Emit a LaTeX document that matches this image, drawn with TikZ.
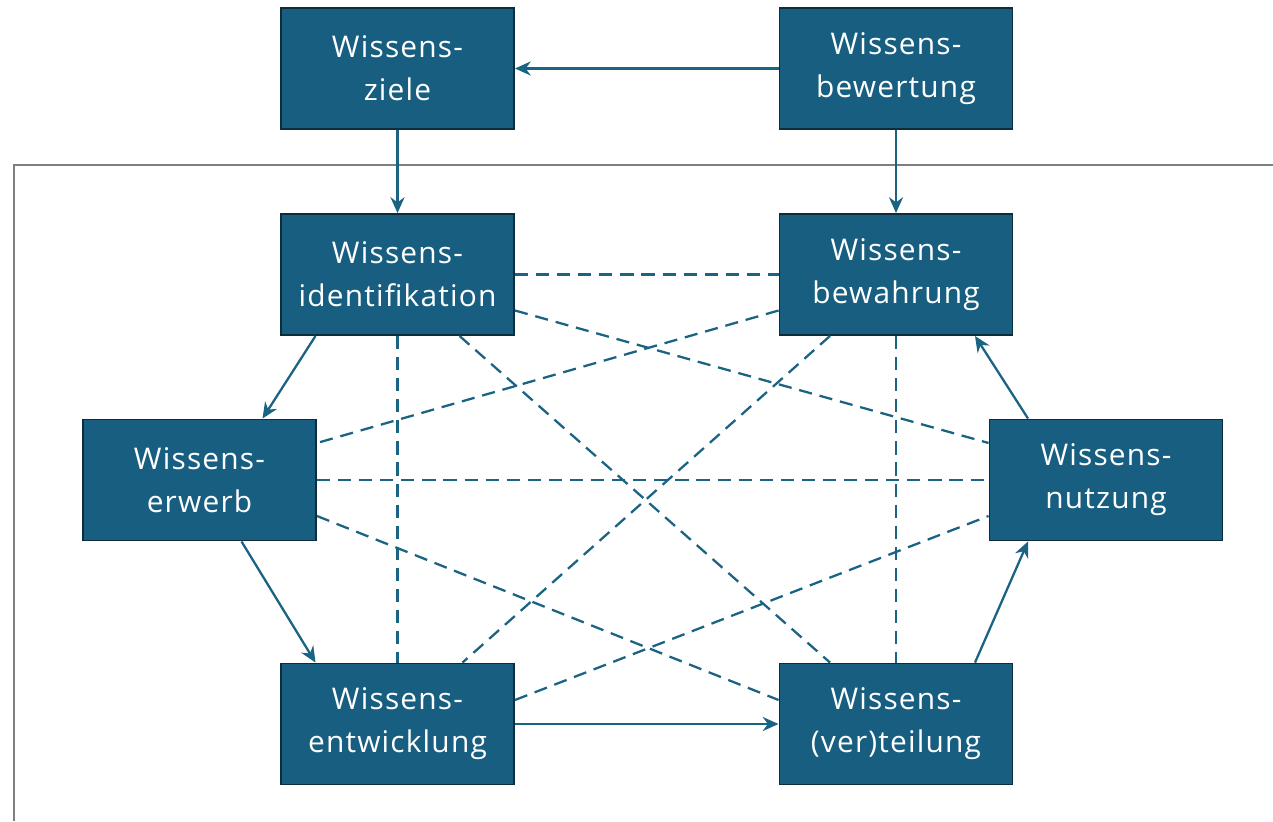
\documentclass[tikz,border=0pt]{standalone}
\usepackage{fontspec}
\setmainfont{Open Sans}[LetterSpace=4]
\usetikzlibrary{arrows.meta}
\definecolor{boxfill}{HTML}{175E80}
\definecolor{boxedge}{HTML}{0D2C3C}
\definecolor{link}{HTML}{1A6383}
\definecolor{frame}{HTML}{7F7F7F}
\begin{document}
\begin{tikzpicture}[x=0.02cm,y=-0.02cm,
  block/.style={draw=boxedge,line width=1.1pt,fill=boxfill,text=white,
    minimum width=233*0.02cm,minimum height=121*0.02cm,inner sep=0pt,
    align=center,font=\fontsize{17}{24.5}\selectfont},
  flow/.style={draw=link,line width=1.3pt,-{Stealth[length=9pt,width=8pt]}},
  cross/.style={draw=link,line width=1.3pt,dash pattern=on 7.5pt off 4.5pt}]
\useasboundingbox (0,0) rectangle (1273,821);
% outer frame
\draw[frame,line width=1.1pt] (14,821) -- (14,165) -- (1273,165);
% blocks
\node[block] (ziele) at (397.5,68.5) {Wissens-\\ziele};
\node[block] (bewert) at (896,68.5) {Wissens-\\bewertung};
\node[block] (ident) at (397.5,274.5) {Wissens-\\identifikation};
\node[block] (bewahr) at (896,274.5) {Wissens-\\bewahrung};
\node[block] (erwerb) at (199.5,480) {Wissens-\\erwerb};
\node[block] (nutz) at (1106,480) {Wissens-\\nutzung};
\node[block] (entw) at (397.5,724) {Wissens-\\entwicklung};
\node[block] (teil) at (896,724) {Wissens-\\(ver)teilung};
% dashed cross links
\draw[cross] (ident.east) -- (bewahr.west);
\draw[cross] (ident.south) -- (entw.north);
\draw[cross] (bewahr.south) -- (teil.north);
\draw[cross] (erwerb.east) -- (nutz.west);
\draw[cross] ([yshift=-36*0.02cm]ident.east) -- ([yshift=37*0.02cm]nutz.west);
\draw[cross] ([yshift=-36*0.02cm]bewahr.west) -- ([yshift=37*0.02cm]erwerb.east);
\draw[cross] ([xshift=62*0.02cm]ident.south) -- ([xshift=-66*0.02cm]teil.north);
\draw[cross] ([xshift=-66*0.02cm]bewahr.south) -- ([xshift=65*0.02cm]entw.north);
\draw[cross] ([yshift=-36*0.02cm]erwerb.east) -- ([yshift=24*0.02cm]teil.west);
\draw[cross] ([yshift=24*0.02cm]entw.east) -- ([yshift=-36*0.02cm]nutz.west);
% solid flow arrows
\draw[flow] (bewert.west) -- (ziele.east);
\draw[flow] (ziele.south) -- (ident.north);
\draw[flow] (bewert.south) -- (bewahr.north);
\draw[flow] ([xshift=-82*0.02cm]ident.south) -- ([xshift=63*0.02cm]erwerb.north);
\draw[flow] ([xshift=42*0.02cm]erwerb.south) -- ([xshift=-82*0.02cm]entw.north);
\draw[flow] (entw.east) -- (teil.west);
\draw[flow] ([xshift=79*0.02cm]teil.north) -- ([xshift=-78*0.02cm]nutz.south);
\draw[flow] ([xshift=-78*0.02cm]nutz.north) -- ([xshift=79*0.02cm]bewahr.south);
\end{tikzpicture}
\end{document}
